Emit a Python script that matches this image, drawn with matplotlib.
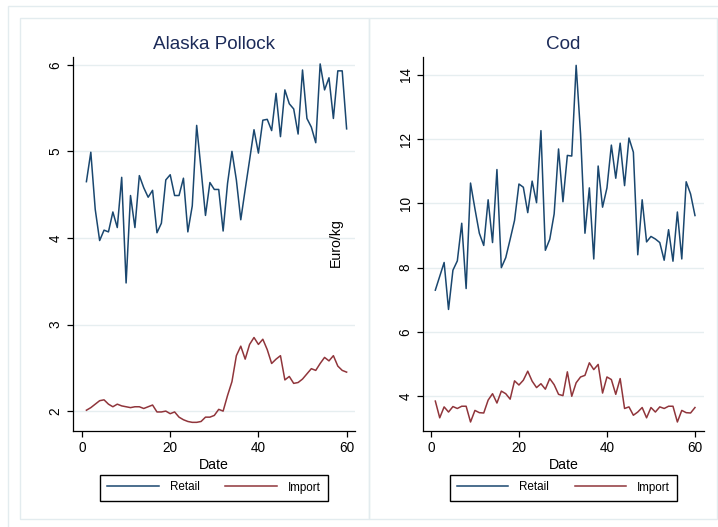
import numpy as np
import matplotlib
matplotlib.use("Agg")
import matplotlib.pyplot as plt
from matplotlib.patches import Rectangle

plt.rcParams['font.family'] = ['Liberation Sans', 'DejaVu Sans']

dates = list(range(1, 61))

pollock_retail = [4.65, 4.99, 4.33, 3.97, 4.09, 4.07, 4.30, 4.12, 4.70, 3.48,
                  4.49, 4.12, 4.72, 4.58, 4.47, 4.55, 4.06, 4.17, 4.67, 4.73,
                  4.49, 4.49, 4.69, 4.07, 4.37, 5.30, 4.79, 4.26, 4.64, 4.56,
                  4.56, 4.08, 4.63, 5.00, 4.67, 4.21, 4.56, 4.90, 5.25, 4.98,
                  5.36, 5.37, 5.24, 5.67, 5.17, 5.71, 5.55, 5.49, 5.20, 5.94,
                  5.38, 5.28, 5.10, 6.01, 5.71, 5.85, 5.38, 5.93, 5.93, 5.26]
pollock_import = [2.01, 2.04, 2.08, 2.12, 2.13, 2.08, 2.05, 2.08, 2.06, 2.05,
                  2.04, 2.05, 2.05, 2.03, 2.05, 2.07, 1.99, 1.99, 2.00, 1.97,
                  1.99, 1.93, 1.90, 1.88, 1.87, 1.87, 1.88, 1.93, 1.93, 1.95,
                  2.02, 2.00, 2.18, 2.34, 2.64, 2.75, 2.60, 2.77, 2.85, 2.77,
                  2.83, 2.71, 2.55, 2.60, 2.64, 2.36, 2.40, 2.32, 2.33, 2.37,
                  2.43, 2.49, 2.47, 2.55, 2.62, 2.58, 2.64, 2.52, 2.47, 2.45]
cod_retail = [7.30, 7.73, 8.16, 6.70, 7.92, 8.21, 9.38, 7.35, 10.63, 9.83,
              9.07, 8.69, 10.11, 8.78, 11.05, 8.00, 8.31, 8.88, 9.47, 10.60,
              10.50, 9.71, 10.69, 10.02, 12.26, 8.54, 8.88, 9.67, 11.69, 10.05,
              11.49, 11.47, 14.29, 12.16, 9.07, 10.48, 8.27, 11.16, 9.88, 10.48,
              11.81, 10.78, 11.87, 10.55, 12.03, 11.59, 8.40, 10.11, 8.80, 8.97,
              8.89, 8.78, 8.23, 9.18, 8.20, 9.73, 8.27, 10.67, 10.29, 9.62]
cod_import = [3.85, 3.33, 3.67, 3.51, 3.68, 3.62, 3.69, 3.69, 3.20, 3.56,
              3.49, 3.48, 3.88, 4.08, 3.79, 4.16, 4.08, 3.91, 4.48, 4.35,
              4.50, 4.78, 4.47, 4.27, 4.39, 4.22, 4.55, 4.36, 4.06, 4.02,
              4.76, 4.00, 4.42, 4.60, 4.65, 5.04, 4.83, 4.99, 4.10, 4.60,
              4.52, 4.06, 4.55, 3.62, 3.67, 3.41, 3.51, 3.65, 3.33, 3.65,
              3.51, 3.67, 3.62, 3.69, 3.69, 3.20, 3.56, 3.49, 3.48, 3.65]

titles = ["Alaska Pollock", "Cod"]
series_labels = ["Retail", "Import"]
x_ticks = [0, 20, 40, 60]
pollock_yticks = [2, 3, 4, 5, 6]
cod_yticks = [4, 6, 8, 10, 12, 14]

RETAIL_C = '#1a476f'
IMPORT_C = '#90353b'
FRAME_C = '#e3ecef'
GRID_C = '#e6eef0'
TITLE_C = '#1c2b59'

W, H = 718, 527
fig = plt.figure(figsize=(W / 100, H / 100), dpi=100)
fig.patch.set_facecolor('white')

def fx(px):
    return px / W

def fy(py):
    return 1 - py / H

# frames
fig.add_artist(Rectangle((fx(8), fy(540)), fx(730) - fx(8), fy(6) - fy(540),
                         transform=fig.transFigure, fill=False, edgecolor=FRAME_C, lw=1.0))
fig.add_artist(Rectangle((fx(20), fy(519)), fx(369) - fx(20), fy(18) - fy(519),
                         transform=fig.transFigure, fill=False, edgecolor=FRAME_C, lw=1.0))
fig.add_artist(Rectangle((fx(369), fy(519)), fx(717) - fx(369), fy(18) - fy(519),
                         transform=fig.transFigure, fill=False, edgecolor=FRAME_C, lw=1.0))

panels = [
    dict(rect=(73, 355), ylim=(1.77, 6.09), xlim=(-2.04, 61.9), yt=pollock_yticks,
         r=pollock_retail, i=pollock_import, title=titles[0]),
    dict(rect=(423, 704), ylim=(2.92, 14.55), xlim=(-1.8, 62.05), yt=cod_yticks,
         r=cod_retail, i=cod_import, title=titles[1]),
]

top, bot = 57, 431
for p in panels:
    x0, x1 = p['rect']
    ax = fig.add_axes([fx(x0), fy(bot), fx(x1) - fx(x0), fy(top) - fy(bot)])
    ax.set_facecolor('white')
    l1, = ax.plot(dates, p['r'], color=RETAIL_C, lw=1.1, label=series_labels[0])
    l2, = ax.plot(dates, p['i'], color=IMPORT_C, lw=1.1, label=series_labels[1])
    ax.set_xlim(*p['xlim'])
    ax.set_ylim(*p['ylim'])
    ax.set_xticks(x_ticks)
    ax.set_yticks(p['yt'])
    ax.grid(axis='y', color=GRID_C, lw=1.0)
    ax.set_axisbelow(True)
    for s in ['top', 'right']:
        ax.spines[s].set_visible(False)
    for s in ['left', 'bottom']:
        ax.spines[s].set_color('black')
        ax.spines[s].set_linewidth(0.9)
    ax.tick_params(axis='both', direction='out', length=4, width=0.9, labelsize=9.8, pad=3.5)
    for lab in ax.get_yticklabels():
        lab.set_rotation(90)
        lab.set_va('center')
    ax.set_xlabel('Date', fontsize=10.2, labelpad=2)
    ax.set_title(p['title'], fontsize=13.6, color=TITLE_C, pad=5.5)
    cx = (x0 + x1) / 2
    leg = ax.legend(handles=[l1, l2], loc='center', bbox_to_anchor=(fx(cx), fy(487.5)),
                    bbox_transform=fig.transFigure, ncol=2, fontsize=8.4,
                    handlelength=4.4, handletextpad=0.95, columnspacing=2.2,
                    borderpad=0.6, frameon=True, fancybox=False, framealpha=1)
    leg.get_frame().set_edgecolor('black')
    leg.get_frame().set_linewidth(1.0)

fig.text(fx(335.5), fy(243), 'Euro/kg', rotation=90, ha='center', va='center', fontsize=10.2)

fig.savefig('out.png', dpi=100)
